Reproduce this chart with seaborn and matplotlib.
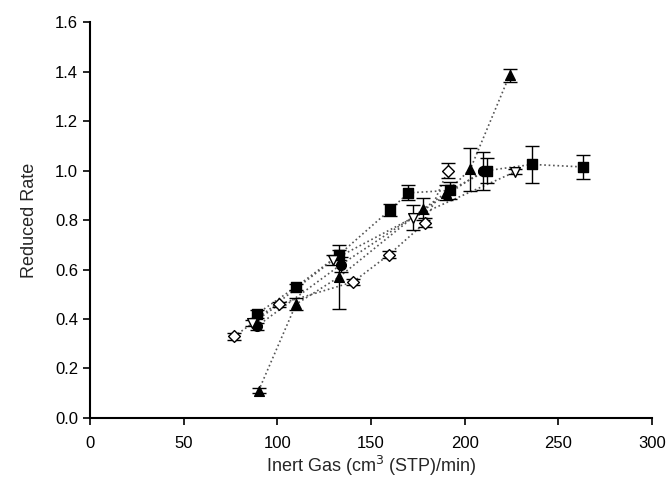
import matplotlib
matplotlib.use("Agg")
import matplotlib.pyplot as plt
import seaborn as sns
import pandas as pd

# Data
sq_x = [89, 110, 133, 160, 170, 192, 212, 236, 263]
sq_y = [0.42, 0.53, 0.66, 0.84, 0.91, 0.92, 1.00, 1.025, 1.015]
sq_e = [0.015, 0.012, 0.02, 0.025, 0.03, 0.035, 0.05, 0.076, 0.05]

tri_x = [90, 110, 133, 178, 190, 203, 224]
tri_y = [0.11, 0.46, 0.57, 0.845, 0.91, 1.005, 1.385]
tri_e = [0.01, 0.025, 0.13, 0.045, 0.03, 0.088, 0.025]

cir_x = [89, 134, 210]
cir_y = [0.37, 0.62, 1.00]
cir_e = [0.015, 0.03, 0.077]

dia_x = [77, 101, 140.5, 159.6, 179, 191]
dia_y = [0.33, 0.46, 0.55, 0.66, 0.79, 1.00]
dia_e = [0.015, 0.01, 0.012, 0.015, 0.02, 0.03]

dtri_x = [86.5, 130, 172.5, 227]
dtri_y = [0.385, 0.64, 0.81, 0.995]
dtri_e = [0.012, 0.02, 0.05, 0.01]

series = [
    ("squares", sq_x, sq_y, sq_e, "s", "black"),
    ("triangles", tri_x, tri_y, tri_e, "^", "black"),
    ("circles", cir_x, cir_y, cir_e, "o", "black"),
    ("diamonds", dia_x, dia_y, dia_e, "D", "white"),
    ("downtri", dtri_x, dtri_y, dtri_e, "v", "white"),
]

sns.set_style("ticks")
plt.rcParams['font.family'] = ['Liberation Sans', 'DejaVu Sans']

fig = plt.figure(figsize=(6.72, 4.94), dpi=100)
ax = fig.add_axes([0.134, 0.154, 0.836, 0.801])

for name, xs, ys, es, mk, fc in series:
    df = pd.DataFrame({"x": xs, "y": ys})
    sns.lineplot(data=df, x="x", y="y", ax=ax, color="#555555", linestyle=":",
                 linewidth=1.2, sort=True, estimator=None)
    ax.errorbar(xs, ys, yerr=es, fmt="none", ecolor="black", elinewidth=1.0,
                capsize=5, capthick=1.0, zorder=3)
    ms = 7 if mk != "D" else 6
    sns.scatterplot(data=df, x="x", y="y", ax=ax, marker=mk, s=ms**2,
                    facecolor=fc, edgecolor="black", linewidth=1.0, zorder=4)

ax.set_xlim(0, 300)
ax.set_ylim(0, 1.6)
ax.set_xticks([0, 50, 100, 150, 200, 250, 300])
ax.set_yticks([0.0, 0.2, 0.4, 0.6, 0.8, 1.0, 1.2, 1.4, 1.6])
ax.set_yticklabels([f"{v:.1f}" for v in ax.get_yticks()])
ax.tick_params(axis="both", labelsize=12, direction="out", length=5, width=1.2, colors="black")
ax.tick_params(axis="x", pad=8)
for s in ["left", "bottom"]:
    ax.spines[s].set_linewidth(1.5)
    ax.spines[s].set_color("black")
sns.despine(ax=ax)
ax.set_xlabel("Inert Gas (cm$^3$ (STP)/min)", fontsize=13, labelpad=2)
ax.set_ylabel("Reduced Rate", fontsize=13, labelpad=12)

fig.savefig("out.png", dpi=100)
